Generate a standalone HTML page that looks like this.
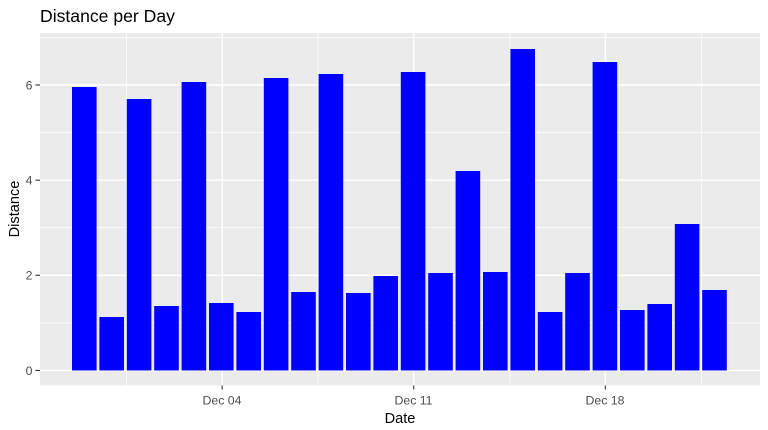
<!DOCTYPE html>
<html>
<head>
<meta charset="utf-8">
<style>
html,body{margin:0;padding:0;background:#fff;}
svg{display:block;}
text{font-family:"Liberation Sans",Arial,sans-serif;}
</style>
</head>
<body>
<svg width="768" height="430" viewBox="0 0 768 430" xmlns="http://www.w3.org/2000/svg">
<rect x="0" y="0" width="768" height="430" fill="#ffffff"/>
<!-- panel -->
<rect x="40" y="33" width="720" height="352.5" fill="#ebebeb"/>
<!-- minor grid -->
<g stroke="#ffffff" stroke-width="0.7">
<line x1="40" x2="760" y1="37.4" y2="37.4"/>
<line x1="40" x2="760" y1="132.6" y2="132.6"/>
<line x1="40" x2="760" y1="227.7" y2="227.7"/>
<line x1="40" x2="760" y1="322.9" y2="322.9"/>
<line y1="33" y2="385.5" x1="126.5" x2="126.5"/>
<line y1="33" y2="385.5" x1="318" x2="318"/>
<line y1="33" y2="385.5" x1="510" x2="510"/>
<line y1="33" y2="385.5" x1="701.5" x2="701.5"/>
</g>
<!-- major grid -->
<g stroke="#ffffff" stroke-width="1.4">
<line x1="40" x2="760" y1="85" y2="85"/>
<line x1="40" x2="760" y1="180.2" y2="180.2"/>
<line x1="40" x2="760" y1="275.3" y2="275.3"/>
<line x1="40" x2="760" y1="370.45" y2="370.45"/>
<line y1="33" y2="385.5" x1="222.2" x2="222.2"/>
<line y1="33" y2="385.5" x1="413.7" x2="413.7"/>
<line y1="33" y2="385.5" x1="605.3" x2="605.3"/>
</g>
<!-- bars -->
<g fill="#0000ff">
<rect x="72.0" y="87" width="24.6" height="283.45"/>
<rect x="99.4" y="317" width="24.6" height="53.45"/>
<rect x="126.8" y="99" width="24.6" height="271.45"/>
<rect x="154.2" y="306" width="24.6" height="64.45"/>
<rect x="181.6" y="82" width="24.6" height="288.45"/>
<rect x="209.0" y="303" width="24.6" height="67.45"/>
<rect x="236.4" y="312" width="24.6" height="58.45"/>
<rect x="263.8" y="78" width="24.6" height="292.45"/>
<rect x="291.2" y="292" width="24.6" height="78.45"/>
<rect x="318.6" y="74" width="24.6" height="296.45"/>
<rect x="346.0" y="293" width="24.6" height="77.45"/>
<rect x="373.4" y="276" width="24.6" height="94.45"/>
<rect x="400.8" y="72" width="24.6" height="298.45"/>
<rect x="428.2" y="273" width="24.6" height="97.45"/>
<rect x="455.6" y="171" width="24.6" height="199.45"/>
<rect x="483.0" y="272" width="24.6" height="98.45"/>
<rect x="510.4" y="49" width="24.6" height="321.45"/>
<rect x="537.8" y="312" width="24.6" height="58.45"/>
<rect x="565.2" y="273" width="24.6" height="97.45"/>
<rect x="592.6" y="62" width="24.6" height="308.45"/>
<rect x="620.0" y="310" width="24.6" height="60.45"/>
<rect x="647.4" y="304" width="24.6" height="66.45"/>
<rect x="674.8" y="224" width="24.6" height="146.45"/>
<rect x="702.2" y="290" width="24.6" height="80.45"/>
</g>
<!-- axis ticks -->
<g stroke="#333333" stroke-width="1.1">
<line x1="35.5" x2="40" y1="85" y2="85"/>
<line x1="35.5" x2="40" y1="180.2" y2="180.2"/>
<line x1="35.5" x2="40" y1="275.3" y2="275.3"/>
<line x1="35.5" x2="40" y1="370.45" y2="370.45"/>
<line y1="385.5" y2="389.5" x1="222.2" x2="222.2"/>
<line y1="385.5" y2="389.5" x1="413.7" x2="413.7"/>
<line y1="385.5" y2="389.5" x1="605.3" x2="605.3"/>
</g>
<!-- y tick labels -->
<g fill="#4d4d4d" font-size="12.3" text-anchor="end">
<text x="32.5" y="89.4">6</text>
<text x="32.5" y="184.6">4</text>
<text x="32.5" y="279.7">2</text>
<text x="32.5" y="374.8">0</text>
</g>
<!-- x tick labels -->
<g fill="#4d4d4d" font-size="12.3" text-anchor="middle">
<text x="222" y="404.3">Dec 04</text>
<text x="413.5" y="404.3">Dec 11</text>
<text x="605" y="404.3">Dec 18</text>
</g>
<!-- axis titles -->
<text x="400" y="423" font-size="14.6" fill="#000" text-anchor="middle">Date</text>
<text transform="translate(19,209) rotate(-90)" font-size="14.6" fill="#000" text-anchor="middle">Distance</text>
<!-- title -->
<text x="40" y="22" font-size="17.6" fill="#000">Distance per Day</text>
</svg>
</body>
</html>
